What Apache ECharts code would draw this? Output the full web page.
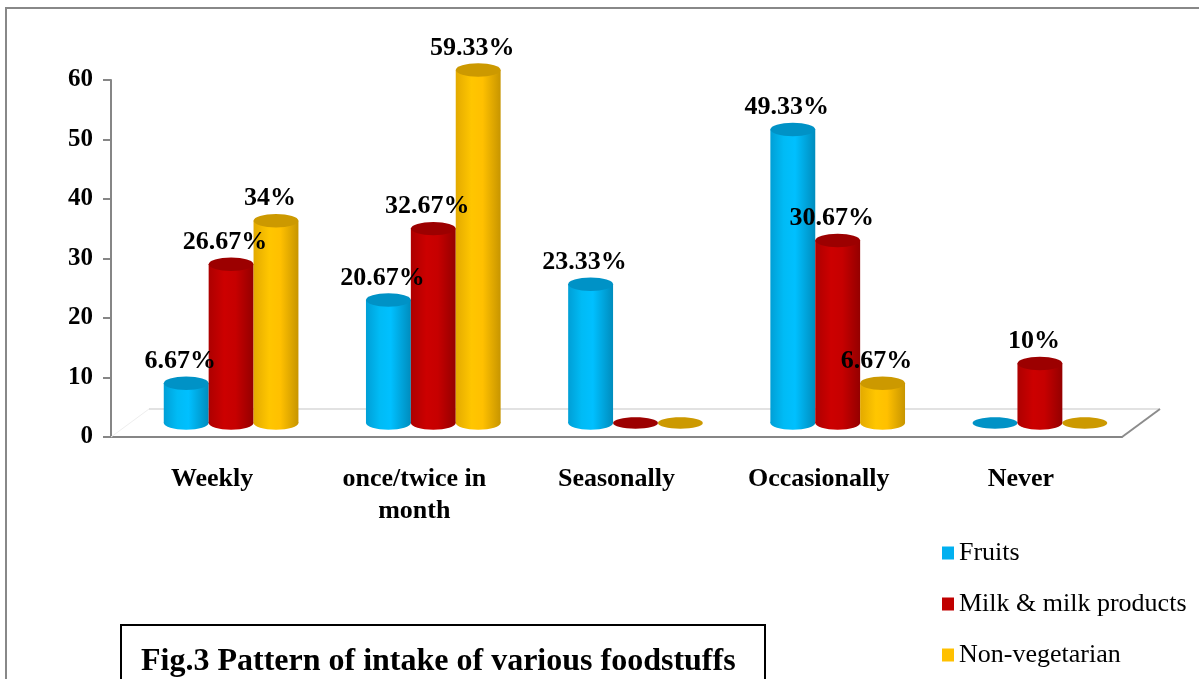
<!DOCTYPE html>
<html><head><meta charset="utf-8">
<script src="https://cdn.jsdelivr.net/npm/echarts@6/dist/echarts.min.js"></script>
<style>html,body{margin:0;padding:0;background:#fff}#c{width:1199px;height:679px}</style>
</head><body><div id="c"></div>
<script>
// ---- data ----
const categories = ['Weekly', 'once/twice in\nmonth', 'Seasonally', 'Occasionally', 'Never'];
const fruits = [6.67, 20.67, 23.33, 49.33, 0];
const milk = [26.67, 32.67, 0, 30.67, 10];
const nonVeg = [34, 59.33, 0, 6.67, 0];
const seriesNames = ['Fruits', 'Milk & milk products', 'Non-vegetarian'];
const yMin = 0, yMax = 60, yInterval = 10;
const titleText = 'Fig.3 Pattern of intake of various foodstuffs';

// ---- styling ----
const SERIF = "'Liberation Serif', 'Times New Roman', serif";
const DX = 19, DY = -14; // half-depth offset of the 3D floor
const palettes = [
  {legend: '#00b0f0', cap: '#0092c6', stops: [{offset:0,color:'#009fd6'},{offset:0.3,color:'#00bbf5'},{offset:0.55,color:'#00c0ff'},{offset:1,color:'#008cbd'}]},
  {legend: '#c00000', cap: '#9c0000', stops: [{offset:0,color:'#ad0000'},{offset:0.35,color:'#cc0000'},{offset:0.6,color:'#c60000'},{offset:1,color:'#940000'}]},
  {legend: '#ffc000', cap: '#cc9900', stops: [{offset:0,color:'#e3aa00'},{offset:0.35,color:'#ffc600'},{offset:0.6,color:'#ffc000'},{offset:1,color:'#c79500'}]}
];

function makeCylinder(name, values, k) {
  const p = palettes[k];
  return {
    type: 'custom', name: name, coordinateSystem: 'cartesian2d',
    data: values.map((v, i) => [i, v]),
    encode: {x: 0, y: 1},
    itemStyle: {color: p.legend},
    z: 3, clip: false,
    renderItem: function (params, api) {
      const i = api.value(0), v = api.value(1);
      const band = api.size([1, 0])[0];
      const w = band * 0.222;
      const rx = w / 2, ry = w * 0.15;
      const top = api.coord([i, v]), base = api.coord([i, 0]);
      const cx = top[0] + (k - 1) * w + DX;
      const ty = top[1] + DY, by = base[1] + DY;
      const children = [];
      if (v > 0) {
        children.push({type: 'ellipse', shape: {cx: cx, cy: by, rx: rx, ry: ry}, style: {fill: new echarts.graphic.LinearGradient(0, 0, 1, 0, p.stops)}});
        children.push({type: 'rect', shape: {x: cx - rx, y: ty, width: w, height: by - ty}, style: {fill: new echarts.graphic.LinearGradient(0, 0, 1, 0, p.stops)}});
        children.push({type: 'ellipse', shape: {cx: cx, cy: ty, rx: rx, ry: ry}, style: {fill: p.cap}});
        children.push({type: 'text', z2: 100, x: cx - 6, y: ty - 22, style: {text: v + '%', font: 'bold 26px ' + SERIF, fill: '#000', align: 'center', verticalAlign: 'middle'}});
      } else {
        children.push({type: 'ellipse', shape: {cx: cx, cy: by, rx: rx, ry: ry * 0.85}, style: {fill: p.cap}});
      }
      return {type: 'group', children: children};
    }
  };
}

const floorSeries = {
  type: 'custom', data: [[0, 0]], encode: {x: 0, y: 1}, silent: true, z: 1, clip: false,
  renderItem: function (params, api) {
    const band = api.size([1, 0])[0];
    const a = api.coord([0, 0]), b = api.coord([categories.length - 1, 0]);
    const x0 = a[0] - band / 2, x1 = b[0] + band / 2, y0 = a[1];
    return {type: 'group', children: [
      {type: 'line', shape: {x1: x0 + 2 * DX, y1: y0 + 2 * DY, x2: x1 + 2 * DX, y2: y0 + 2 * DY}, style: {stroke: '#d9d9d9', lineWidth: 1.5}},
      {type: 'line', shape: {x1: x1, y1: y0, x2: x1 + 2 * DX, y2: y0 + 2 * DY}, style: {stroke: '#8c8c8c', lineWidth: 2}},
      {type: 'line', shape: {x1: x0, y1: y0, x2: x0 + 2 * DX, y2: y0 + 2 * DY}, style: {stroke: '#eeeeee', lineWidth: 1}}
    ]};
  }
};

const chart = echarts.init(document.getElementById('c'));
const axisLineStyle = {color: '#868686', width: 2};
chart.setOption({
  animation: false,
  backgroundColor: '#fff',
  title: {
    text: titleText, left: 121, top: 625,
    borderColor: '#000', borderWidth: 2, padding: [21, 30, 40, 20],
    textStyle: {fontFamily: SERIF, fontSize: 32, fontWeight: 'bold', color: '#000'}
  },
  legend: {
    data: seriesNames, orient: 'vertical', left: 937, top: 535,
    icon: 'rect', itemWidth: 12, itemHeight: 13, itemGap: 25,
    textStyle: {fontFamily: SERIF, fontSize: 26, color: '#000'}
  },
  graphic: [{type: 'rect', shape: {x: 6, y: 8, width: 1300, height: 800}, style: {fill: null, stroke: '#888', lineWidth: 2}, silent: true, z: -1}],
  grid: {left: 111, right: 77, top: 80, bottom: 242},
  xAxis: {
    type: 'category', data: categories,
    axisLine: {lineStyle: axisLineStyle},
    axisTick: {length: 8, lineStyle: axisLineStyle},
    axisLabel: {fontFamily: SERIF, fontSize: 26, fontWeight: 'bold', color: '#000', margin: 26, lineHeight: 32, interval: 0}
  },
  yAxis: {
    type: 'value', min: yMin, max: yMax, interval: yInterval,
    axisLine: {show: true, lineStyle: axisLineStyle},
    axisTick: {show: true, length: 8, lineStyle: axisLineStyle},
    splitLine: {show: false},
    axisLabel: {fontFamily: SERIF, fontSize: 25, fontWeight: 'bold', color: '#000', margin: 18}
  },
  series: [
    floorSeries,
    makeCylinder(seriesNames[0], fruits, 0),
    makeCylinder(seriesNames[1], milk, 1),
    makeCylinder(seriesNames[2], nonVeg, 2)
  ]
});
</script></body></html>
